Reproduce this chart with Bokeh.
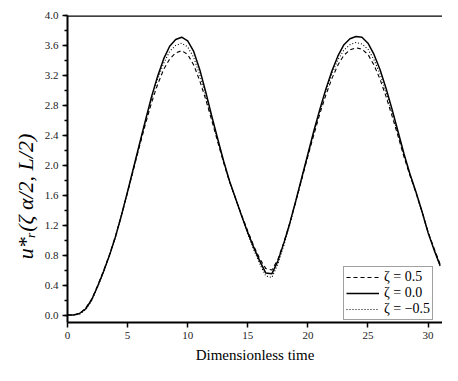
from bokeh.plotting import figure
from bokeh.models import (Range1d, SingleIntervalTicker, PrintfTickFormatter,
                          Legend, LegendItem, Span)
from bokeh.embed import file_html
from bokeh.resources import INLINE

# Dimensionless time
t = [0.0, 0.5, 1.0, 1.5, 2.0, 2.5, 3.0, 3.5, 4.0, 4.5, 5.0, 5.5, 6.0, 6.5,
     7.0, 7.5, 8.0, 8.5, 9.0, 9.5, 10.0, 10.5, 11.0, 11.5, 12.0, 12.5, 13.0,
     13.5, 14.0, 14.5, 15.0, 15.5, 16.0, 16.5, 17.0, 17.5, 18.0, 18.5, 19.0,
     19.5, 20.0, 20.5, 21.0, 21.5, 22.0, 22.5, 23.0, 23.5, 24.0, 24.5, 25.0,
     25.5, 26.0, 26.5, 27.0, 27.5, 28.0, 28.5, 29.0, 29.5, 30.0, 30.5, 31.0]

# zeta = 0.5 (dashed)
u_zeta_p05 = [0.00, 0.00, 0.02, 0.09, 0.21, 0.39, 0.59, 0.81, 1.06, 1.34, 1.64,
              1.95, 2.26, 2.56, 2.84, 3.08, 3.28, 3.42, 3.50, 3.53, 3.48, 3.34,
              3.13, 2.88, 2.60, 2.31, 2.03, 1.77, 1.55, 1.33, 1.12, 0.92, 0.75,
              0.62, 0.60, 0.74, 0.97, 1.23, 1.52, 1.82, 2.12, 2.41, 2.69, 2.94,
              3.16, 3.34, 3.47, 3.54, 3.57, 3.55, 3.48, 3.34, 3.15, 2.92, 2.66,
              2.39, 2.11, 1.86, 1.63, 1.38, 1.11, 0.89, 0.68]

# zeta = 0.0 (solid)
u_zeta_00 = [0.00, 0.00, 0.02, 0.08, 0.20, 0.38, 0.58, 0.80, 1.05, 1.34, 1.65,
             1.97, 2.29, 2.61, 2.92, 3.19, 3.42, 3.59, 3.68, 3.71, 3.66, 3.52,
             3.28, 2.98, 2.66, 2.35, 2.05, 1.78, 1.55, 1.32, 1.10, 0.90, 0.72,
             0.56, 0.55, 0.72, 0.96, 1.23, 1.53, 1.84, 2.15, 2.46, 2.75, 3.02,
             3.26, 3.46, 3.61, 3.69, 3.72, 3.71, 3.63, 3.48, 3.28, 3.03, 2.75,
             2.45, 2.15, 1.88, 1.64, 1.38, 1.10, 0.87, 0.66]

# zeta = -0.5 (dotted)
u_zeta_m05 = [0.00, 0.00, 0.01, 0.07, 0.19, 0.37, 0.57, 0.79, 1.04, 1.33, 1.64,
              1.96, 2.28, 2.59, 2.89, 3.15, 3.36, 3.52, 3.60, 3.63, 3.58, 3.44,
              3.21, 2.93, 2.63, 2.33, 2.04, 1.77, 1.54, 1.31, 1.08, 0.87, 0.68,
              0.52, 0.50, 0.68, 0.93, 1.21, 1.52, 1.83, 2.14, 2.44, 2.73, 2.99,
              3.22, 3.41, 3.54, 3.61, 3.64, 3.62, 3.55, 3.41, 3.22, 2.98, 2.71,
              2.42, 2.13, 1.87, 1.63, 1.37, 1.10, 0.86, 0.65]

legend_labels = ["\u03b6 = 0.5", "\u03b6 = 0.0", "\u03b6 = \u22120.5"]
x_label = "Dimensionless time"
y_label = "u*\u1d63(\u03b6 \u03b1/2, L/2)"

SERIF = "Liberation Serif"

X_END = 31.2
Y_START, Y_END = -0.1, 4.0

p = figure(width=442, height=365, output_backend="svg", toolbar_location=None,
           x_range=Range1d(0, X_END), y_range=Range1d(Y_START, Y_END),
           min_border_left=67, min_border_top=15, min_border_right=0,
           min_border_bottom=41)
p.outline_line_color = None
p.xgrid.visible = False
p.ygrid.visible = False
p.background_fill_color = "white"
p.border_fill_color = "white"

r_dash = p.line(t, u_zeta_p05, line_color="black", line_width=1.1, line_dash="4 3")
r_solid = p.line(t, u_zeta_00, line_color="black", line_width=1.5)
r_dot = p.line(t, u_zeta_m05, line_color="black", line_width=1.1, line_dash="1 2")

p.xaxis.ticker = SingleIntervalTicker(interval=5, num_minor_ticks=0)
p.yaxis.ticker = SingleIntervalTicker(interval=0.4, num_minor_ticks=2)
p.yaxis.formatter = PrintfTickFormatter(format="%.1f")

for ax in (p.xaxis[0], p.yaxis[0]):
    ax.axis_line_width = 2
    ax.axis_line_color = "black"
    ax.major_tick_line_width = 1.5
    ax.major_tick_line_color = "black"
    ax.minor_tick_line_width = 1.5
    ax.minor_tick_line_color = "black"
    ax.major_tick_in = 0
    ax.major_tick_out = 5
    ax.minor_tick_in = 0
    ax.minor_tick_out = 3
    ax.major_label_text_font = SERIF
    ax.major_label_text_font_size = "11px"
    ax.major_label_text_color = "#222222"
    ax.major_label_standoff = 4

p.xaxis.axis_label = x_label
p.xaxis.axis_label_text_font = SERIF
p.xaxis.axis_label_text_font_size = "15px"
p.xaxis.axis_label_text_font_style = "normal"
p.xaxis.axis_label_text_color = "black"
p.xaxis.axis_label_standoff = 5

# trailing em/en spaces push the centred label down, as in the original
p.yaxis.axis_label = y_label + "\u2003\u2003\u2002"
p.yaxis.axis_label_text_font = SERIF
p.yaxis.axis_label_text_font_size = "22px"
p.yaxis.axis_label_text_font_style = "italic"
p.yaxis.axis_label_text_color = "black"
p.yaxis.axis_label_standoff = 4

p.add_layout(Span(location=Y_END, dimension="width", line_color="black", line_width=2.5))

legend = Legend(items=[LegendItem(label=legend_labels[0], renderers=[r_dash]),
                       LegendItem(label=legend_labels[1], renderers=[r_solid]),
                       LegendItem(label=legend_labels[2], renderers=[r_dot])],
                location=(276, 2))
legend.border_line_color = "#444444"
legend.border_line_width = 1
legend.background_fill_color = "white"
legend.background_fill_alpha = 1
legend.padding = 2
legend.spacing = 0
legend.margin = 0
legend.label_standoff = 5
legend.glyph_width = 33
legend.glyph_height = 14
legend.label_height = 14
legend.label_text_font = SERIF
legend.label_text_font_size = "14px"
legend.label_text_color = "black"
p.add_layout(legend)

open("out.html", "w").write(file_html(p, INLINE))
